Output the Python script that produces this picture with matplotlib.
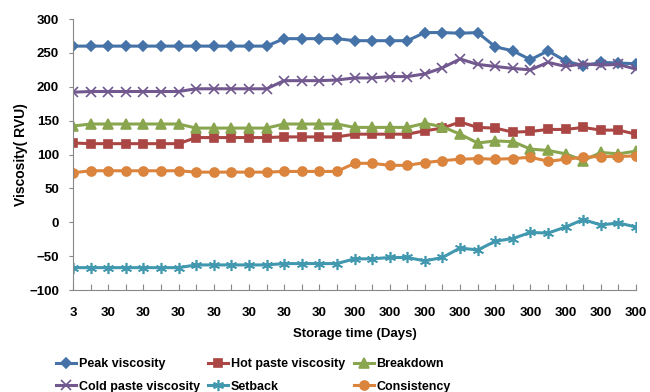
import matplotlib
matplotlib.use('Agg')
import matplotlib.pyplot as plt

plt.rcParams['font.family'] = ['Liberation Sans', 'DejaVu Sans']
plt.rcParams['font.weight'] = 'bold'

# storage time labels, one per sample (only every second one is printed)
days = ['3'] + ['30'] * 15 + ['300'] * 17

peak = [260, 260, 260, 260, 260, 260, 260, 260, 260, 260, 260, 260,
        271, 271, 271, 271, 268, 268, 268, 268,
        280, 280, 279, 280, 259, 253, 240, 253, 238, 231, 236, 235, 234]
hot_paste = [117, 116, 116, 116, 116, 116, 116, 125, 125, 125, 125, 125,
             126, 126, 126, 126, 130, 130, 130, 130,
             135, 139, 148, 140, 139, 133, 134, 137, 137, 140, 136, 136, 130]
breakdown = [142, 145, 145, 145, 145, 145, 145, 139, 139, 139, 139, 139,
             145, 145, 145, 145, 140, 140, 140, 140,
             146, 141, 130, 117, 120, 119, 108, 106, 101, 91, 103, 101, 105]
cold_paste = [192, 193, 193, 193, 193, 193, 193, 197, 197, 197, 197, 197,
              209, 209, 209, 210, 213, 213, 215, 215,
              219, 228, 241, 233, 230, 227, 225, 236, 230, 234, 232, 233, 226]
setback = [-67, -67, -67, -67, -67, -67, -67, -63, -63, -63, -63, -63,
           -61, -61, -61, -61, -54, -54, -52, -52,
           -57, -52, -38, -41, -28, -24, -15, -16, -7, 4, -4, -1, -7]
consistency = [73, 76, 76, 76, 76, 76, 76, 74, 74, 74, 74, 74,
               75, 75, 75, 75, 87, 87, 84, 84,
               88, 91, 93, 94, 93, 94, 96, 90, 93, 96, 97, 97, 98]

x = list(range(len(days)))

fig = plt.figure(figsize=(6.5, 3.92), dpi=100)
ax = fig.add_axes([0.1123, 0.2602, 0.8662, 0.6913])

series = [
    ('Peak viscosity', peak, '#4572A7', 'D', 5),
    ('Cold paste viscosity', cold_paste, '#71588F', 'x', 7),
    ('Hot paste viscosity', hot_paste, '#AA4643', 's', 6),
    ('Setback', setback, '#4198AF', (6, 2, 0), 8),
    ('Breakdown', breakdown, '#89A54E', '^', 6.5),
    ('Consistency', consistency, '#DB843D', 'o', 6.5),
]
for name, vals, col, mk, ms in series:
    ax.plot(x, vals, color=col, marker=mk, markersize=ms, linewidth=2.2,
            markeredgewidth=1.2, markeredgecolor=col, label=name)

ax.set_xlim(0, len(days) - 1)
ax.set_ylim(-100, 300)
ax.set_yticks(range(-100, 301, 50))
ax.set_xticks(x)
ax.set_xticklabels([d if i % 2 == 0 else '' for i, d in enumerate(days)])

for side in ['top', 'right']:
    ax.spines[side].set_visible(False)
for side in ['left', 'bottom']:
    ax.spines[side].set_color('#888888')
ax.tick_params(axis='y', direction='out', length=3, color='#888888', pad=7, labelsize=9.5)
ax.tick_params(axis='x', direction='in', length=4, color='#888888', pad=12, labelsize=9.5)

ax.set_xlabel('Storage time (Days)', fontsize=9.5, fontweight='bold', labelpad=7)
ax.set_ylabel('Viscosity( RVU)', fontsize=10, fontweight='bold', labelpad=1)

ax.legend(loc='upper left', bbox_to_anchor=(-0.05, -0.21), ncol=3, frameon=False,
          fontsize=9, handlelength=1.6, handletextpad=0.2, columnspacing=0.7,
          labelspacing=0.85)

fig.savefig('out.png', dpi=100)
